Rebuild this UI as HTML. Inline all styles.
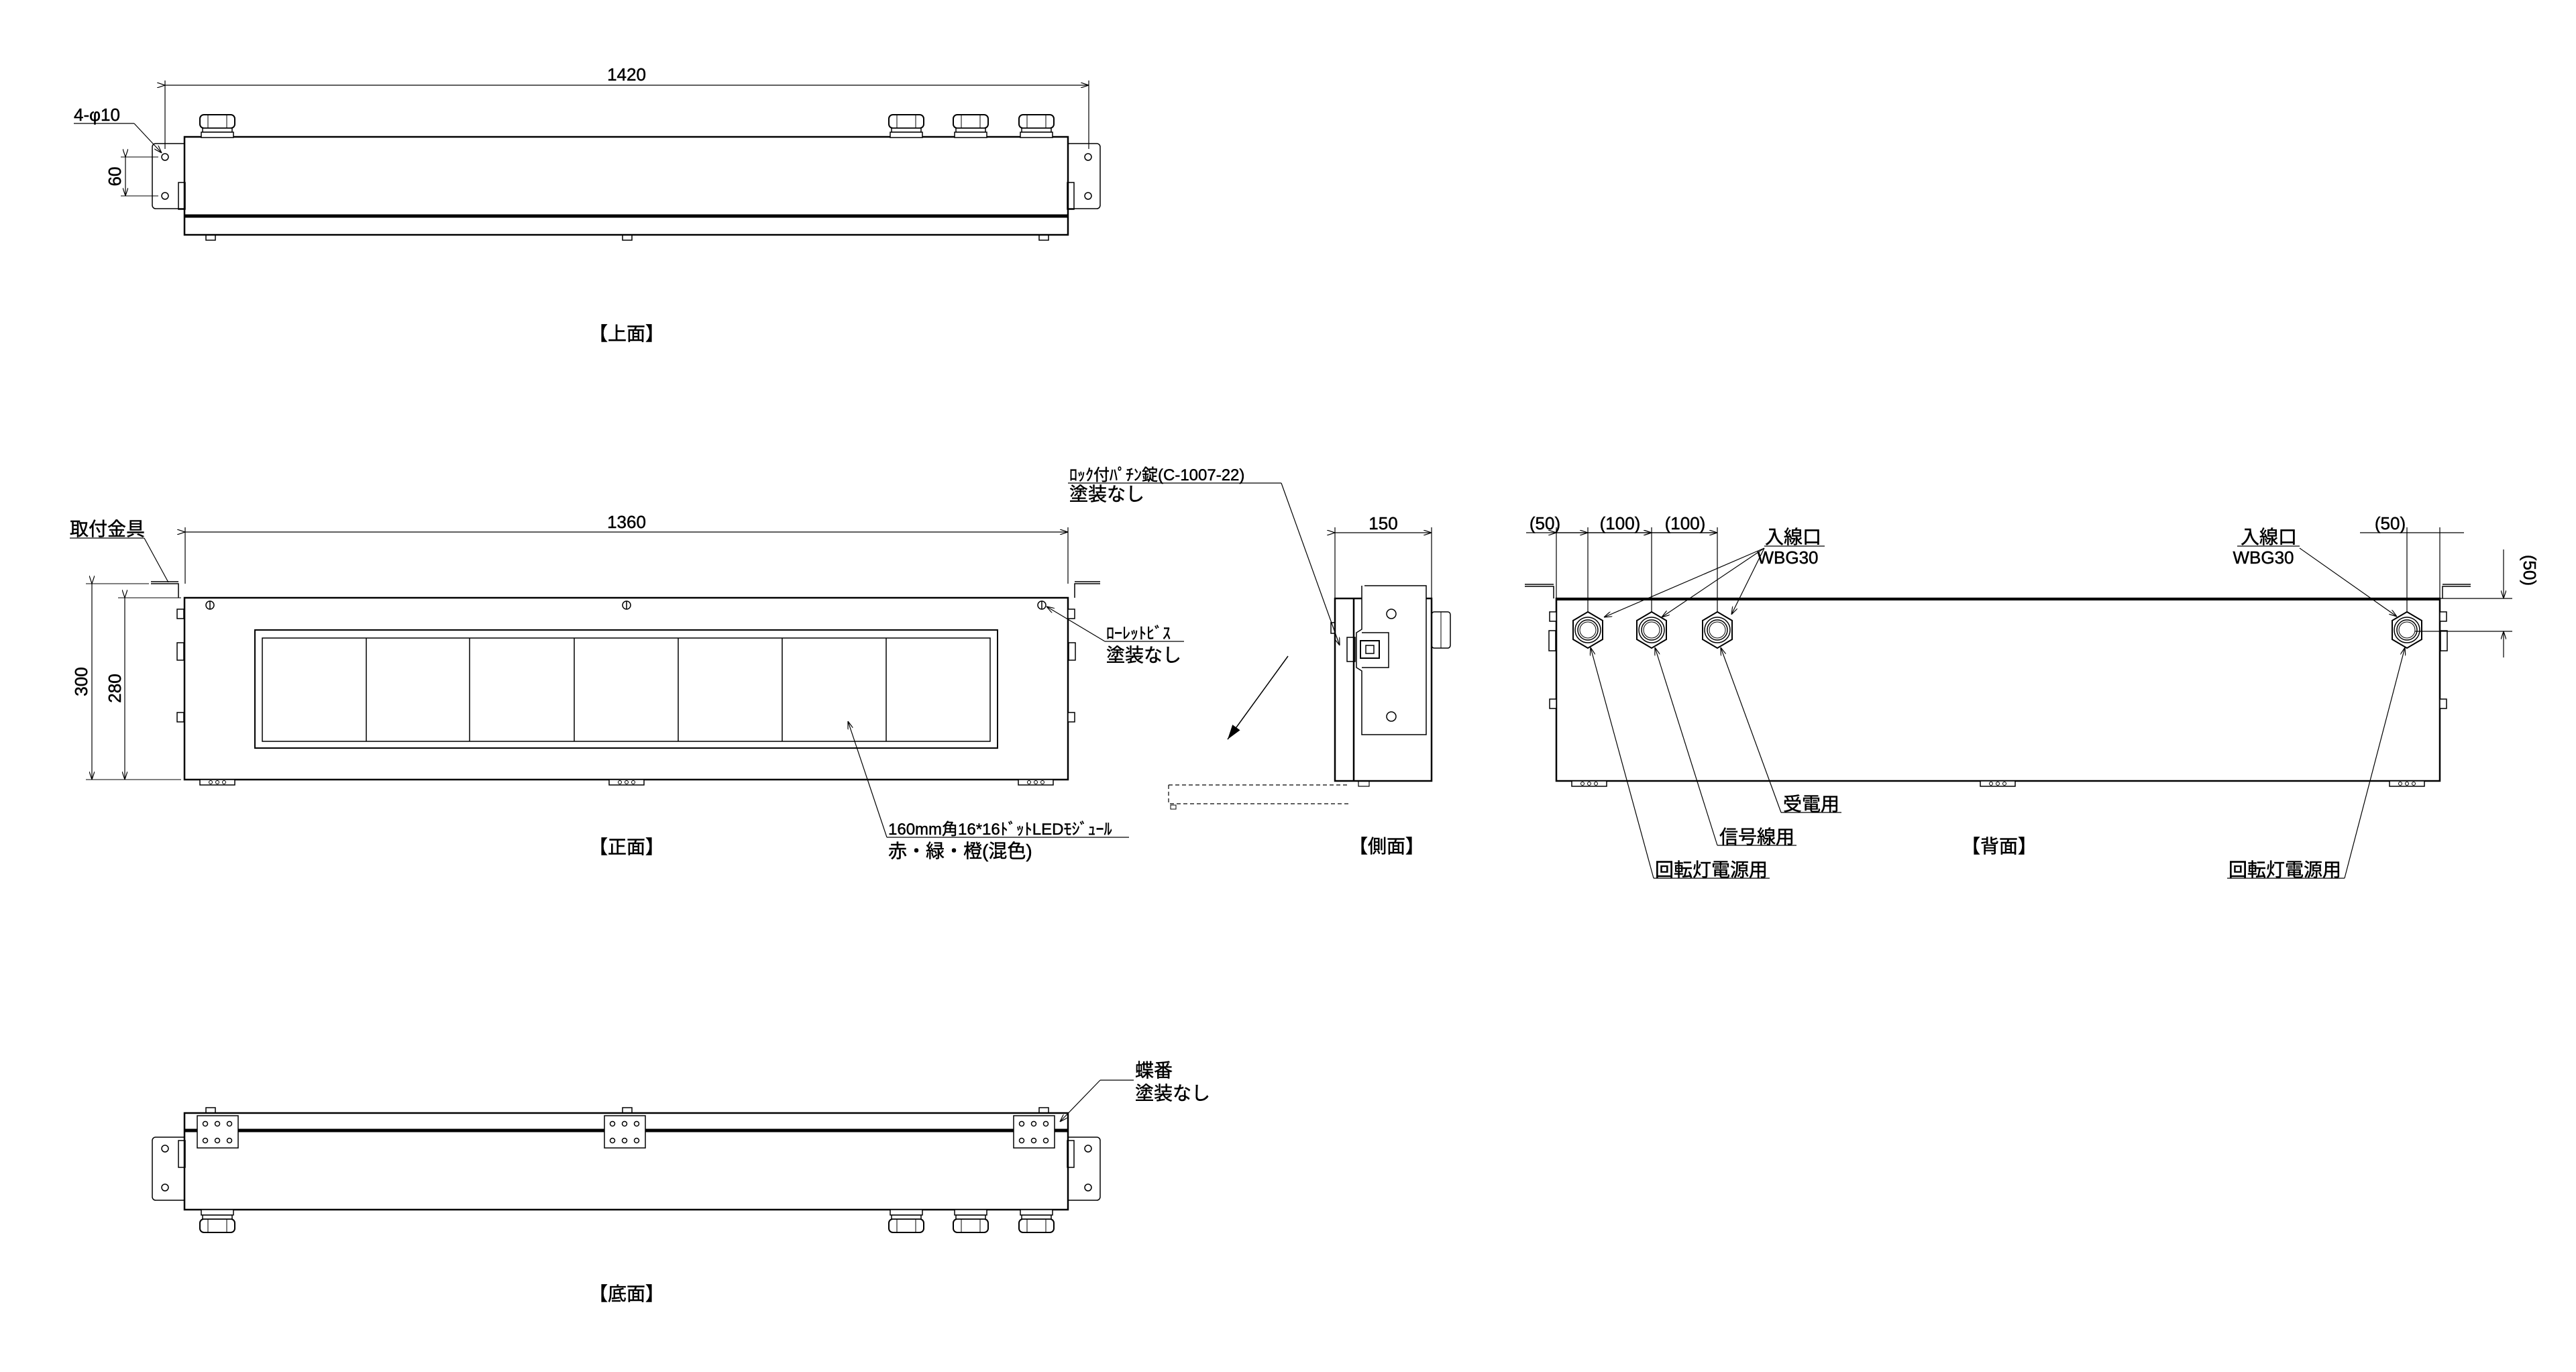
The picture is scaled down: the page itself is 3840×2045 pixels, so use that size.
<!DOCTYPE html>
<html><head><meta charset="utf-8"><style>
html,body{margin:0;padding:0;background:#fff;}
svg{display:block;}
text{font-family:"Liberation Sans","Noto Sans CJK JP",sans-serif;fill:#000;stroke:#000;stroke-width:0.5;}
.n{font-size:26px;}
.j{font-size:28px;}
.k{font-size:24px;}
</style></head><body>
<svg width="3840" height="2045" viewBox="0 0 3840 2045" xmlns="http://www.w3.org/2000/svg">
<defs>
<marker id="a" markerWidth="12" markerHeight="8" refX="12" refY="4" orient="auto" markerUnits="userSpaceOnUse"><path d="M0,0 L12,4 L0,8" fill="none" stroke="#000" stroke-width="1.2"/></marker>
<marker id="af" markerWidth="22" markerHeight="14" refX="22" refY="7" orient="auto" markerUnits="userSpaceOnUse"><path d="M0,0 L22,7 L0,14 z" fill="#000"/></marker>
<g id="gland"><rect x="-26" y="0" width="52" height="20" rx="6" fill="#fff" stroke="#000" stroke-width="2"/><line x1="-14" y1="0" x2="-14" y2="20" stroke="#000"/><line x1="14" y1="0" x2="14" y2="20" stroke="#000"/><rect x="-22" y="20" width="44" height="6" fill="#fff" stroke="#000" stroke-width="1.5"/><rect x="-24" y="26" width="48" height="8" fill="#fff" stroke="#000" stroke-width="1.5"/></g>
<g id="hex"><polygon points="0,-27 22,-14 22,14 0,27 -22,14 -22,-14" fill="#fff" stroke="#000" stroke-width="2"/><circle r="19" fill="none" stroke="#000" stroke-width="1.5"/><circle r="15" fill="none" stroke="#000" stroke-width="1.5"/><circle r="12" fill="none" stroke="#000" stroke-width="1"/></g>
<g id="foot"><rect x="-26" y="0" width="52" height="8" fill="#fff" stroke="#000" stroke-width="1.5"/><circle cx="-10" cy="4" r="2.5" fill="none" stroke="#000"/><circle cx="10" cy="4" r="2.5" fill="none" stroke="#000"/><circle cx="0" cy="4" r="2.5" fill="none" stroke="#000"/></g>
<g id="hinge"><rect x="0" y="0" width="61" height="48" fill="#fff" stroke="#000" stroke-width="1.5"/><circle cx="12" cy="12" r="3.5" fill="none" stroke="#000" stroke-width="1.5"/><circle cx="30" cy="12" r="3.5" fill="none" stroke="#000" stroke-width="1.5"/><circle cx="48" cy="12" r="3.5" fill="none" stroke="#000" stroke-width="1.5"/><circle cx="12" cy="37" r="3.5" fill="none" stroke="#000" stroke-width="1.5"/><circle cx="30" cy="37" r="3.5" fill="none" stroke="#000" stroke-width="1.5"/><circle cx="48" cy="37" r="3.5" fill="none" stroke="#000" stroke-width="1.5"/></g>
<g id="tab"><rect x="-6" y="0" width="10" height="14" fill="#fff" stroke="#000" stroke-width="1.5"/></g>
</defs>
<g fill="none" stroke="#000">

<!-- ================= TOP VIEW ================= -->
<line x1="246" y1="127" x2="1623" y2="127" stroke-width="1.2" marker-start="url(#a)" marker-end="url(#a)"/>
<line x1="246" y1="120" x2="246" y2="222" stroke-width="1.2"/>
<line x1="1623" y1="120" x2="1623" y2="222" stroke-width="1.2"/>
<path d="M275,214 H232 a5,5 0 0 0 -5,5 V306 a5,5 0 0 0 5,5 H275" stroke-width="1.5"/>
<path d="M1592,214 H1635 a5,5 0 0 1 5,5 V306 a5,5 0 0 1 -5,5 H1592" stroke-width="1.5"/>
<circle cx="246" cy="234" r="5" stroke-width="1.5"/><circle cx="246" cy="292" r="5" stroke-width="1.5"/>
<circle cx="1622" cy="234" r="5" stroke-width="1.5"/><circle cx="1622" cy="292" r="5" stroke-width="1.5"/>
<line x1="180" y1="234" x2="236" y2="234" stroke-width="1"/><line x1="180" y1="292" x2="236" y2="292" stroke-width="1"/>
<line x1="187" y1="234" x2="187" y2="292" stroke-width="1.2" marker-start="url(#a)" marker-end="url(#a)"/>
<rect x="275" y="204" width="1317" height="146" stroke-width="2.5"/>
<line x1="275" y1="322" x2="1592" y2="322" stroke-width="5"/>
<rect x="266" y="272" width="10" height="40" stroke-width="1.5"/><rect x="1591" y="272" width="10" height="40" stroke-width="1.5"/>
<rect x="307" y="350" width="14" height="8" stroke-width="1.5"/><rect x="928" y="350" width="14" height="8" stroke-width="1.5"/><rect x="1549" y="350" width="14" height="8" stroke-width="1.5"/>
<line x1="110" y1="184" x2="200" y2="184" stroke-width="1.2"/>
<line x1="200" y1="184" x2="241" y2="228" stroke-width="1.2" marker-end="url(#a)"/>

<!-- ================= FRONT VIEW ================= -->
<line x1="276" y1="793" x2="1592" y2="793" stroke-width="1.2" marker-start="url(#a)" marker-end="url(#a)"/>
<line x1="276" y1="786" x2="276" y2="870" stroke-width="1.2"/><line x1="1592" y1="786" x2="1592" y2="870" stroke-width="1.2"/>
<path d="M225,870 H266 V891" stroke-width="1.5"/><path d="M1640,870 H1602 V891" stroke-width="1.5"/>
<line x1="225" y1="867" x2="266" y2="867" stroke-width="1.5"/><line x1="1602" y1="867" x2="1640" y2="867" stroke-width="1.5"/>
<rect x="275" y="891" width="1317" height="271" stroke-width="2.5"/>
<rect x="380" y="939" width="1107" height="176" stroke-width="2"/>
<rect x="391" y="951" width="1085" height="154" stroke-width="1.5"/>
<g stroke-width="1.5"><line x1="546" y1="951" x2="546" y2="1105"/><line x1="700" y1="951" x2="700" y2="1105"/><line x1="856" y1="951" x2="856" y2="1105"/><line x1="1011" y1="951" x2="1011" y2="1105"/><line x1="1166" y1="951" x2="1166" y2="1105"/><line x1="1321" y1="951" x2="1321" y2="1105"/></g>
<g stroke-width="1.5"><circle cx="313" cy="902" r="6"/><line x1="313" y1="896" x2="313" y2="908"/><circle cx="934" cy="902" r="6"/><line x1="934" y1="896" x2="934" y2="908"/><circle cx="1553" cy="902" r="6"/><line x1="1553" y1="896" x2="1553" y2="908"/></g>
<use href="#tab" x="270" y="908"/><use href="#tab" x="270" y="1062"/><rect x="264" y="958" width="10" height="26" stroke-width="1.5"/>
<use href="#tab" x="1598" y="908"/><use href="#tab" x="1598" y="1062"/><rect x="1593" y="958" width="10" height="26" stroke-width="1.5"/>
<use href="#foot" x="324" y="1162"/><use href="#foot" x="934" y="1162"/><use href="#foot" x="1544" y="1162"/>
<line x1="128" y1="870" x2="222" y2="870" stroke-width="1"/><line x1="128" y1="1162" x2="270" y2="1162" stroke-width="1"/>
<line x1="176" y1="891" x2="270" y2="891" stroke-width="1"/>
<line x1="137" y1="870" x2="137" y2="1162" stroke-width="1.2" marker-start="url(#a)" marker-end="url(#a)"/>
<line x1="186" y1="891" x2="186" y2="1162" stroke-width="1.2" marker-start="url(#a)" marker-end="url(#a)"/>
<line x1="104" y1="802" x2="215" y2="802" stroke-width="1.2"/><line x1="215" y1="802" x2="251" y2="868" stroke-width="1.2"/>
<line x1="1647" y1="956" x2="1765" y2="956" stroke-width="1.2"/><line x1="1647" y1="956" x2="1560" y2="904" stroke-width="1.2" marker-end="url(#a)"/>
<line x1="1322" y1="1248" x2="1683" y2="1248" stroke-width="1.2"/><line x1="1322" y1="1248" x2="1264" y2="1075" stroke-width="1.2" marker-end="url(#a)"/>

<line x1="1592" y1="720" x2="1910" y2="720" stroke-width="1.2"/>
<line x1="1910" y1="720" x2="1997" y2="962" stroke-width="1.2" marker-end="url(#a)"/>
<line x1="1920" y1="978" x2="1830" y2="1102" stroke-width="1.5" marker-end="url(#af)"/>
<path d="M1742,1170 H2012 M1742,1170 V1198 H2012" stroke-width="1.2" stroke-dasharray="6,4"/>
<rect x="1745" y="1200" width="8" height="6" stroke-width="1"/>

<!-- ================= SIDE VIEW ================= -->
<line x1="1990" y1="794" x2="2134" y2="794" stroke-width="1.2" marker-start="url(#a)" marker-end="url(#a)"/>
<line x1="1990" y1="786" x2="1990" y2="892" stroke-width="1.2"/><line x1="2134" y1="786" x2="2134" y2="892" stroke-width="1.2"/>
<rect x="1990" y="892" width="144" height="272" stroke-width="2.5"/>
<line x1="2018" y1="892" x2="2018" y2="1164" stroke-width="2.5"/>
<path d="M2034,873 H2126 V1095 H2030 V1000 L2022,995 V943 L2030,938 V873" fill="#fff" stroke-width="1.5"/>
<path d="M2030,943 H2070 V995 H2030" stroke-width="1.5"/>
<circle cx="2074" cy="915" r="7" stroke-width="1.5"/><circle cx="2074" cy="1068" r="7" stroke-width="1.5"/>
<rect x="2028" y="955" width="28" height="26" stroke-width="2"/><rect x="2036" y="962" width="12" height="12" stroke-width="1.5"/>
<rect x="2008" y="950" width="12" height="36" stroke-width="1.5"/>
<rect x="1984" y="928" width="6" height="16" stroke-width="1.5"/>
<rect x="2134" y="912" width="28" height="54" rx="4" stroke-width="1.5"/><line x1="2148" y1="912" x2="2148" y2="966"/>
<rect x="2025" y="1164" width="16" height="8" stroke-width="1.2"/>

<!-- ================= BACK VIEW ================= -->
<line x1="2275" y1="794" x2="2560" y2="794" stroke-width="1.2"/>
<line x1="2320" y1="794" x2="2367" y2="794" stroke-width="1.2" marker-start="url(#a)"/>
<line x1="2367" y1="794" x2="2462" y2="794" stroke-width="1.2" marker-start="url(#a)" marker-end="url(#a)"/>
<line x1="2462" y1="794" x2="2560" y2="794" stroke-width="1.2" marker-start="url(#a)" marker-end="url(#a)"/>
<line x1="2320" y1="786" x2="2320" y2="892" stroke-width="1.2"/>
<line x1="2367" y1="786" x2="2367" y2="939" stroke-width="1.2"/>
<line x1="2462" y1="786" x2="2462" y2="939" stroke-width="1.2"/>
<line x1="2560" y1="786" x2="2560" y2="939" stroke-width="1.2"/>
<line x1="3518" y1="794" x2="3673" y2="794" stroke-width="1.2"/>
<line x1="3588" y1="786" x2="3588" y2="939" stroke-width="1.2"/>
<line x1="3637" y1="786" x2="3637" y2="892" stroke-width="1.2"/>
<path d="M2273,874 H2316 V892" stroke-width="1.5"/><line x1="2273" y1="871" x2="2316" y2="871" stroke-width="1.5"/>
<path d="M3683,874 H3641 V892" stroke-width="1.5"/><line x1="3641" y1="871" x2="3683" y2="871" stroke-width="1.5"/>
<rect x="2320" y="892" width="1317" height="272" stroke-width="2.5"/>
<line x1="2320" y1="894" x2="3637" y2="894" stroke-width="2"/>
<use href="#tab" x="2316" y="912"/><use href="#tab" x="2316" y="1042"/><rect x="2309" y="940" width="10" height="30" stroke-width="1.5"/>
<use href="#tab" x="3643" y="912"/><use href="#tab" x="3643" y="1042"/><rect x="3638" y="940" width="10" height="30" stroke-width="1.5"/>
<use href="#foot" x="2369" y="1164"/><use href="#foot" x="2978" y="1164"/><use href="#foot" x="3588" y="1164"/>
<use href="#hex" x="2367" y="939"/><use href="#hex" x="2462" y="939"/><use href="#hex" x="2560" y="939"/><use href="#hex" x="3588" y="939"/>
<line x1="3637" y1="892" x2="3745" y2="892" stroke-width="1.2"/><line x1="3600" y1="941" x2="3745" y2="941" stroke-width="1.2"/>
<line x1="3732" y1="819" x2="3732" y2="892" stroke-width="1.2" marker-end="url(#a)"/>
<line x1="3732" y1="980" x2="3732" y2="941" stroke-width="1.2" marker-end="url(#a)"/>
<line x1="2630" y1="814" x2="2720" y2="814" stroke-width="1.2"/>
<line x1="2630" y1="817" x2="2391" y2="920" stroke-width="1.2" marker-end="url(#a)"/>
<line x1="2630" y1="817" x2="2477" y2="920" stroke-width="1.2" marker-end="url(#a)"/>
<line x1="2630" y1="817" x2="2581" y2="916" stroke-width="1.2" marker-end="url(#a)"/>
<line x1="3335" y1="814" x2="3428" y2="814" stroke-width="1.2"/>
<line x1="3428" y1="817" x2="3573" y2="919" stroke-width="1.2" marker-end="url(#a)"/>
<line x1="2655" y1="1211" x2="2745" y2="1211" stroke-width="1.2"/><line x1="2655" y1="1211" x2="2565" y2="965" stroke-width="1.2" marker-end="url(#a)"/>
<line x1="2560" y1="1260" x2="2678" y2="1260" stroke-width="1.2"/><line x1="2560" y1="1260" x2="2467" y2="965" stroke-width="1.2" marker-end="url(#a)"/>
<line x1="2465" y1="1309" x2="2638" y2="1309" stroke-width="1.2"/><line x1="2465" y1="1309" x2="2371" y2="965" stroke-width="1.2" marker-end="url(#a)"/>
<line x1="3320" y1="1309" x2="3495" y2="1309" stroke-width="1.2"/><line x1="3495" y1="1309" x2="3585" y2="965" stroke-width="1.2" marker-end="url(#a)"/>

<!-- ================= BOTTOM VIEW ================= -->
<path d="M275,1695 H232 a5,5 0 0 0 -5,5 V1784 a5,5 0 0 0 5,5 H275" stroke-width="1.5"/>
<path d="M1592,1695 H1635 a5,5 0 0 1 5,5 V1784 a5,5 0 0 1 -5,5 H1592" stroke-width="1.5"/>
<circle cx="246" cy="1712" r="5" stroke-width="1.5"/><circle cx="246" cy="1770" r="5" stroke-width="1.5"/>
<circle cx="1622" cy="1712" r="5" stroke-width="1.5"/><circle cx="1622" cy="1770" r="5" stroke-width="1.5"/>
<rect x="275" y="1659" width="1317" height="144" stroke-width="2.5"/>
<line x1="275" y1="1685" x2="1592" y2="1685" stroke-width="5"/>
<rect x="266" y="1700" width="10" height="40" stroke-width="1.5"/><rect x="1591" y="1700" width="10" height="40" stroke-width="1.5"/>
<rect x="307" y="1651" width="14" height="8" stroke-width="1.5"/><rect x="928" y="1651" width="14" height="8" stroke-width="1.5"/><rect x="1549" y="1651" width="14" height="8" stroke-width="1.5"/>
<use href="#hinge" x="294" y="1663"/><use href="#hinge" x="901" y="1663"/><use href="#hinge" x="1511" y="1663"/>
<line x1="1640" y1="1610" x2="1690" y2="1610" stroke-width="1.2"/><line x1="1640" y1="1610" x2="1580" y2="1672" stroke-width="1.2" marker-end="url(#a)"/>
</g>
<g transform="translate(324,171)"><use href="#gland"/></g>
<g transform="translate(1351,171)"><use href="#gland"/></g>
<g transform="translate(1447,171)"><use href="#gland"/></g>
<g transform="translate(1545,171)"><use href="#gland"/></g>
<g transform="translate(324,1837) scale(1,-1)"><use href="#gland"/></g>
<g transform="translate(1351,1837) scale(1,-1)"><use href="#gland"/></g>
<g transform="translate(1447,1837) scale(1,-1)"><use href="#gland"/></g>
<g transform="translate(1545,1837) scale(1,-1)"><use href="#gland"/></g>

<!-- TEXT -->
<text class="n" x="934" y="120" text-anchor="middle">1420</text>
<text class="n" x="110" y="180">4-φ10</text>
<text class="n" transform="translate(180,263) rotate(-90)" text-anchor="middle">60</text>
<text class="j" x="934" y="507" text-anchor="middle">【上面】</text>

<text class="n" x="934" y="787" text-anchor="middle">1360</text>
<text class="j" x="104" y="798">取付金具</text>
<text class="n" transform="translate(130,1016) rotate(-90)" text-anchor="middle">300</text>
<text class="n" transform="translate(180,1026) rotate(-90)" text-anchor="middle">280</text>
<text class="k" x="1649" y="952">ﾛｰﾚｯﾄﾋﾞｽ</text>
<text class="j" x="1649" y="986">塗装なし</text>
<text class="k" x="1324" y="1244">160mm角16*16ﾄﾞｯﾄLEDﾓｼﾞｭｰﾙ</text>
<text class="j" x="1324" y="1278">赤・緑・橙(混色)</text>
<text class="j" x="934" y="1272" text-anchor="middle">【正面】</text>
<text class="k" x="1594" y="716">ﾛｯｸ付ﾊﾟﾁﾝ錠(C-1007-22)</text>
<text class="j" x="1594" y="746">塗装なし</text>

<text class="n" x="2062" y="789" text-anchor="middle">150</text>
<text class="j" x="2067" y="1271" text-anchor="middle">【側面】</text>

<text class="n" x="2303" y="789" text-anchor="middle">(50)</text>
<text class="n" x="2415" y="789" text-anchor="middle">(100)</text>
<text class="n" x="2512" y="789" text-anchor="middle">(100)</text>
<text class="n" x="3563" y="789" text-anchor="middle">(50)</text>
<text class="j" x="2673" y="810" text-anchor="middle">入線口</text>
<text class="n" x="2665" y="840" text-anchor="middle">WBG30</text>
<text class="j" x="3382" y="810" text-anchor="middle">入線口</text>
<text class="n" x="3374" y="840" text-anchor="middle">WBG30</text>
<text class="n" transform="translate(3762,850) rotate(90)" text-anchor="middle">(50)</text>
<text class="j" x="2700" y="1208" text-anchor="middle">受電用</text>
<text class="j" x="2619" y="1257" text-anchor="middle">信号線用</text>
<text class="j" x="2551" y="1306" text-anchor="middle">回転灯電源用</text>
<text class="j" x="3406" y="1306" text-anchor="middle">回転灯電源用</text>
<text class="j" x="2980" y="1271" text-anchor="middle">【背面】</text>

<text class="j" x="1692" y="1605">蝶番</text>
<text class="j" x="1692" y="1639">塗装なし</text>
<text class="j" x="934" y="1938" text-anchor="middle">【底面】</text>
</svg>
</body></html>
